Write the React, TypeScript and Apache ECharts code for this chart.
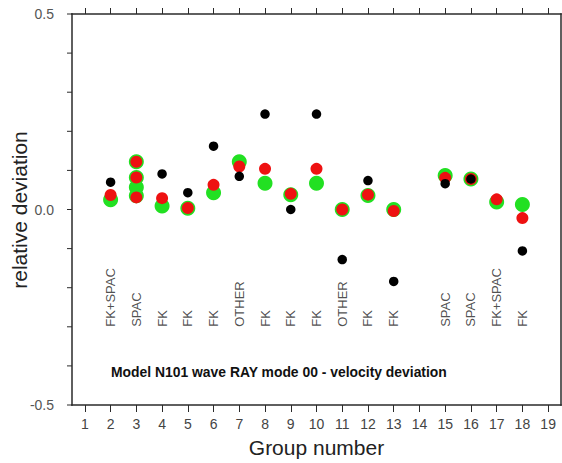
import React, { useEffect, useRef } from "react";
import * as echarts from "echarts";

const groupNumbers = ["1","2","3","4","5","6","7","8","9","10","11","12","13","14","15","16","17","18","19"];

const greenGroups = ["2","3","3","3","3","4","5","6","7","8","9","10","11","12","13","15","16","17","18"];
const greenValues = [0.025,0.122,0.082,0.057,0.035,0.009,0.003,0.043,0.122,0.067,0.038,0.067,0.0,0.036,0.0,0.087,0.078,0.019,0.013];

const redGroups = ["2","3","3","3","4","5","6","7","8","9","10","11","12","13","15","16","17","18"];
const redValues = [0.037,0.122,0.082,0.031,0.029,0.004,0.063,0.110,0.104,0.040,0.104,0.0,0.038,-0.004,0.081,0.078,0.026,-0.022];

const blackGroups = ["2","4","5","6","7","8","9","10","11","12","13","15","16","18"];
const blackValues = [0.070,0.091,0.043,0.162,0.085,0.244,0.0,0.244,-0.128,0.074,-0.184,0.066,0.078,-0.106];

const methodGroups = ["2","3","4","5","6","7","8","9","10","11","12","13","15","16","17","18"];
const methodNames = ["FK+SPAC","SPAC","FK","FK","FK","OTHER","FK","FK","FK","OTHER","FK","FK","SPAC","SPAC","FK+SPAC","FK"];
const methodLabelBase = -0.3;

const yTickLabels = ["-0.5", "0.0", "0.5"];
const yTickValues = [-0.5, -0.4, -0.3, -0.2, -0.1, 0, 0.1, 0.2, 0.3, 0.4, 0.5];

const titleText = "Model N101 wave RAY mode 00 - velocity deviation";
const yTitle = "relative deviation";

const FONT = "'Liberation Sans', Arial, Helvetica, sans-serif";
const AXIS_COLOR = "#2a2a2a";

export default function App() {
  const ref = useRef<HTMLDivElement>(null);
  useEffect(() => {
    document.body.style.margin = "0";
    const chart = echarts.init(ref.current!, undefined, { renderer: "svg" });
    const pairs = (g: string[], v: number[]) => g.map((x, i) => [x, v[i]]);
    chart.setOption({
      animation: false,
      backgroundColor: "#ffffff",
      title: {
        text: titleText,
        left: 106,
        top: 360,
        textStyle: { fontFamily: FONT, fontSize: 13.9, fontWeight: "bold", color: "#111" },
      },
      graphic: [
        {
          type: "text",
          x: 19,
          y: 210,
          rotation: Math.PI / 2,
          style: {
            text: yTitle,
            fontFamily: FONT,
            fontSize: 21,
            fill: "#222",
            align: "center",
            verticalAlign: "middle",
          },
        },
      ],
      grid: {
        left: 72, top: 14, right: 1, bottom: 58,
        outerBoundsMode: "none",
        containLabel: false,
      },
      xAxis: [
        {
          type: "category",
          data: groupNumbers,
          boundaryGap: true,
          position: "bottom",
          name: "Group number",
          nameLocation: "middle",
          nameGap: 32,
          nameTextStyle: { fontFamily: FONT, fontSize: 21, color: "#222" },
          axisLine: { show: false, onZero: false },
          axisTick: { show: true, alignWithLabel: true, length: 7, lineStyle: { color: AXIS_COLOR, width: 1 } },
          axisLabel: { fontFamily: FONT, fontSize: 14, color: "#444", margin: 12, interval: 0 },
          splitLine: { show: false },
        },
        {
          type: "category",
          data: groupNumbers,
          boundaryGap: true,
          position: "top",
          axisLine: { show: false, onZero: false },
          axisTick: { show: true, alignWithLabel: true, length: 6, lineStyle: { color: AXIS_COLOR, width: 1 } },
          axisLabel: { show: false },
          splitLine: { show: false },
        },
      ],
      yAxis: [
        {
          type: "value",
          min: -0.5,
          max: 0.5,
          interval: 0.5,
          position: "left",
          axisLine: { show: false, onZero: false },
          axisTick: { show: false },
          axisLabel: {
            fontFamily: FONT,
            fontSize: 14,
            color: "#555",
            margin: 18,
            formatter: (v: number) => {
              const s = v.toFixed(1);
              return yTickLabels.includes(s) ? s : "";
            },
          },
          splitLine: { show: false },
        },
      ],
      series: [
        {
          type: "custom",
          name: "frame",
          data: [[0, 0]],
          silent: true,
          clip: false,
          z: 10,
          renderItem: (params: any, api: any) => {
            const cs = params.coordSys;
            const w = 1.5;
            const x0 = cs.x, y0 = cs.y, x1 = cs.x + cs.width, y1 = cs.y + cs.height;
            const bar = (x: number, y: number, width: number, height: number) => ({
              type: "rect",
              shape: { x, y, width, height },
              style: { fill: AXIS_COLOR, stroke: null, lineWidth: 0 },
            });
            const children: any[] = [
              bar(x0 - w / 2, y0 - w / 2, x1 - x0 + w, w),
              bar(x0 - w / 2, y1 - w / 2, x1 - x0 + w, w),
              bar(x0 - w / 2, y0 - w / 2, w, y1 - y0 + w),
              bar(x1 - w / 2, y0 - w / 2, w, y1 - y0 + w),
            ];
            yTickValues.forEach((v) => {
              const py = api.coord([0, v])[1];
              children.push(bar(x0 - 5, py - 0.5, 5, 1));
            });
            return { type: "group", children };
          },
        },
        {
          type: "scatter",
          name: "methods",
          data: pairs(methodGroups, methodGroups.map(() => methodLabelBase)),
          symbolSize: 1,
          itemStyle: { color: "rgba(0,0,0,0)" },
          label: {
            show: true,
            position: "inside",
            rotate: 90,
            align: "left",
            verticalAlign: "middle",
            fontFamily: FONT,
            fontSize: 13,
            color: "#222",
            formatter: (p: any) => methodNames[p.dataIndex],
          },
          silent: true,
          z: 1,
        },
        {
          type: "scatter",
          name: "green",
          data: pairs(greenGroups, greenValues),
          symbolSize: 15,
          itemStyle: { color: "#22e022", opacity: 1 },
          z: 2,
        },
        {
          type: "scatter",
          name: "red",
          data: pairs(redGroups, redValues),
          symbolSize: 12,
          itemStyle: { color: "#ee1111", opacity: 1 },
          z: 3,
        },
        {
          type: "scatter",
          name: "black",
          data: pairs(blackGroups, blackValues),
          symbolSize: 9.5,
          itemStyle: { color: "#000", opacity: 1 },
          z: 4,
        },
      ],
    });
    return () => chart.dispose();
  }, []);
  return (
    <div
      ref={ref}
      style={{ position: "fixed", left: 0, top: 0, width: 562, height: 463 }}
    />
  );
}
